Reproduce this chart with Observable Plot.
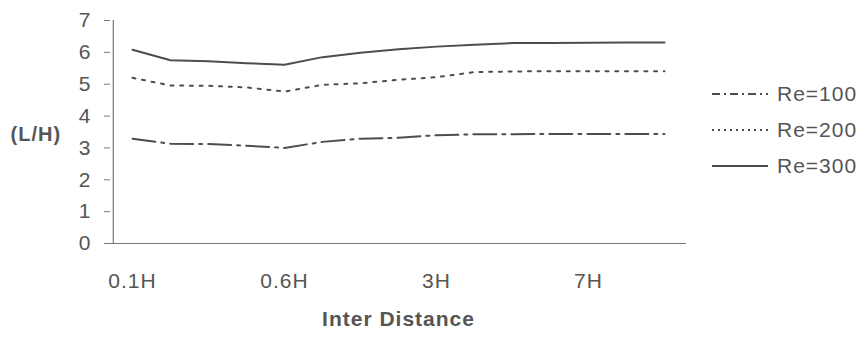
<!DOCTYPE html>
<html>
<head>
<meta charset="utf-8">
<script src="https://cdn.jsdelivr.net/npm/d3@7"></script>
<script src="https://cdn.jsdelivr.net/npm/@observablehq/plot@0.6"></script>
<style>
  html, body { margin: 0; padding: 0; background: #fff; }
  #wrap { position: relative; width: 866px; height: 338px; font-family: "Liberation Sans", Arial, sans-serif; color: #555; }
  #legend { position: absolute; left: 712px; top: 76px; }
  .row { display: flex; align-items: center; height: 36px; font-size: 21px; letter-spacing: 1px; }
  .row svg { width: 56px; height: 10px; margin-right: 9px; }
</style>
</head>
<body>
<div id="wrap"></div>
<script>
// Categories along the x axis (only every 4th is labelled in the original)
const categories = ["0.1H", "0.2H", "0.3H", "0.4H", "0.6H", "0.8H", "1H", "2H", "3H", "4H", "5H", "6H", "7H", "8H", "9H"];
const tickLabels = ["0.1H", "0.6H", "3H", "7H"];
const yTicks = [0, 1, 2, 3, 4, 5, 6, 7];

// Series values (L/H)
const re100 = [3.29, 3.13, 3.12, 3.07, 3.00, 3.19, 3.29, 3.32, 3.40, 3.43, 3.43, 3.44, 3.44, 3.44, 3.44];
const re200 = [5.20, 4.96, 4.95, 4.90, 4.77, 4.98, 5.03, 5.14, 5.22, 5.38, 5.40, 5.41, 5.41, 5.41, 5.41];
const re300 = [6.08, 5.75, 5.72, 5.66, 5.61, 5.85, 5.99, 6.10, 6.18, 6.24, 6.29, 6.29, 6.30, 6.31, 6.31];

const seriesNames = ["Re=100", "Re=200", "Re=300"];
const seriesValues = [re100, re200, re300];
const dashes = ["23,6,3,6", "3,6.7", null];
const legendDashes = ["8,4,2,4", "2,4", null];

const lineColor = "#4d4d4d";
const textColor = "#555";

const rows = seriesNames.flatMap((name, s) =>
  categories.map((c, i) => ({series: name, cat: c, value: seriesValues[s][i]}))
);

const chart = Plot.plot({
  width: 866,
  height: 338,
  marginLeft: 110,
  marginRight: 180,
  marginTop: 20,
  marginBottom: 95,
  style: {fontFamily: '"Liberation Sans", Arial, sans-serif', fontSize: "21px", color: textColor, background: "#fff", letterSpacing: "1px"},
  x: {type: "point", domain: categories, padding: 0.5},
  y: {domain: [0, 7]},
  marks: [
    Plot.axisY({ticks: yTicks, tickFormat: d => String(d), tickSize: 6, tickPadding: 13, label: null, stroke: "#777", fill: textColor, fontSize: 21}),
    Plot.axisX({ticks: tickLabels, tickSize: 0, tickPadding: 30, label: null, fill: textColor, fontSize: 21}),
    Plot.ruleY([0], {stroke: "#777", strokeWidth: 1.2}),
    Plot.ruleX([categories[0]], {y1: 0, y2: 7, stroke: "#777", strokeWidth: 1.2, dx: -19.2}),
    ...seriesNames.map((name, s) =>
      Plot.line(rows.filter(d => d.series === name), {
        x: "cat", y: "value",
        stroke: lineColor, strokeWidth: 2,
        strokeDasharray: dashes[s]
      })
    ),
    Plot.text(["(L/H)"], {frameAnchor: "left", dx: -100, dy: 3, textAnchor: "start", fontWeight: "bold", fontSize: 20, fill: textColor}),
    Plot.text(["Inter Distance"], {frameAnchor: "bottom", dy: 82, fontWeight: "bold", fontSize: 21, fill: textColor})
  ]
});

const wrap = document.getElementById("wrap");
wrap.appendChild(chart);

const legend = document.createElement("div");
legend.id = "legend";
seriesNames.forEach((name, s) => {
  const row = document.createElement("div");
  row.className = "row";
  const ns = "http://www.w3.org/2000/svg";
  const svg = document.createElementNS(ns, "svg");
  svg.setAttribute("viewBox", "0 0 56 10");
  const ln = document.createElementNS(ns, "line");
  ln.setAttribute("x1", 0); ln.setAttribute("x2", 56);
  ln.setAttribute("y1", 5); ln.setAttribute("y2", 5);
  ln.setAttribute("stroke", lineColor);
  ln.setAttribute("stroke-width", 2);
  if (legendDashes[s]) ln.setAttribute("stroke-dasharray", legendDashes[s]);
  svg.appendChild(ln);
  row.appendChild(svg);
  const span = document.createElement("span");
  span.textContent = name;
  row.appendChild(span);
  legend.appendChild(row);
});
wrap.appendChild(legend);
</script>
</body>
</html>
